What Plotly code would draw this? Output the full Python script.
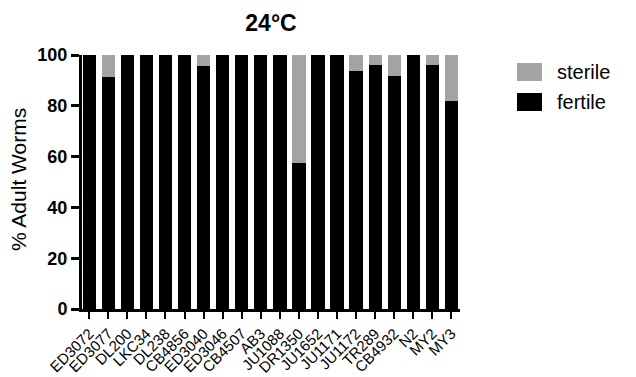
import plotly.graph_objects as go

strains = ["ED3072", "ED3077", "DL200", "LKC34", "DL238", "CB4856", "ED3040", "ED3046",
           "CB4507", "AB3", "JU1088", "DR1350", "JU1652", "JU1171", "JU1172", "TR289",
           "CB4932", "N2", "MY2", "MY3"]
fertile = [100, 91.5, 100, 100, 100, 100, 95.8, 100, 100, 100, 100, 57.4, 100, 100,
           93.8, 96.1, 91.7, 100, 96.1, 82.0]
sterile = [round(100 - f, 1) for f in fertile]
series_names = ["sterile", "fertile"]
series_colors = {"fertile": "#000000", "sterile": "#a3a3a6"}

FONT = "Arial, Liberation Sans, sans-serif"
W, H = 636, 377
L, R, T, B = 82, 460, 55, 309  # plot area in pixels


def px(x):
    return (x - L) / (R - L)


def py(y):
    return (B - y) / (B - T)


fig = go.Figure()
fig.add_trace(go.Bar(x=strains, y=fertile, name="fertile", showlegend=False,
                     marker=dict(color=series_colors["fertile"], line=dict(width=0))))
fig.add_trace(go.Bar(x=strains, y=sterile, name="sterile", showlegend=False,
                     marker=dict(color=series_colors["sterile"], line=dict(width=0))))

# legend drawn as swatches + labels (paper coordinates)
shapes, annots = [], []
for i, nm in enumerate(series_names):
    yc = 72 + i * 30
    shapes.append(dict(type="rect", xref="paper", yref="paper",
                       x0=px(517), x1=px(542), y0=py(yc + 9), y1=py(yc - 9),
                       fillcolor=series_colors[nm], line=dict(width=0)))
    annots.append(dict(text=nm, xref="paper", yref="paper", x=px(555), y=py(yc),
                       xanchor="left", yanchor="middle", showarrow=False,
                       font=dict(size=20, family=FONT, color="black")))

# y-axis title placed manually
annots.append(dict(text="% Adult Worms", xref="paper", yref="paper", x=px(18), y=py(180),
                   xanchor="center", yanchor="middle", textangle=-90, showarrow=False,
                   font=dict(size=21, family=FONT, color="black")))

fig.update_layout(
    barmode="stack",
    bargap=0.3,
    width=W, height=H,
    margin=dict(l=L, r=W - R, t=T, b=H - B),
    paper_bgcolor="white", plot_bgcolor="white",
    font=dict(family=FONT, color="black"),
    title=dict(text="<b>24°C</b>", x=(L + R) / 2 / W, xanchor="center", y=1 - 23 / H,
               yanchor="middle", font=dict(size=23, family=FONT)),
    shapes=shapes, annotations=annots,
    showlegend=False,
)
fig.update_xaxes(
    range=[-0.38, 19.45], showline=True, linecolor="black", linewidth=3,
    ticks="outside", ticklen=7, tickwidth=2, tickcolor="black", automargin=False,
    tickangle=-45, tickfont=dict(size=15, family=FONT), showgrid=False,
)
fig.update_yaxes(
    range=[0, 100], showline=True, linecolor="black", linewidth=3, automargin=False,
    ticks="outside", ticklen=8, tickwidth=2.5, tickcolor="black",
    tickvals=[0, 20, 40, 60, 80, 100], ticktext=["<b>%d</b>" % v for v in [0, 20, 40, 60, 80, 100]],
    tickfont=dict(size=18, family=FONT), showgrid=False, zeroline=False,
)

fig.write_html("out.html")
